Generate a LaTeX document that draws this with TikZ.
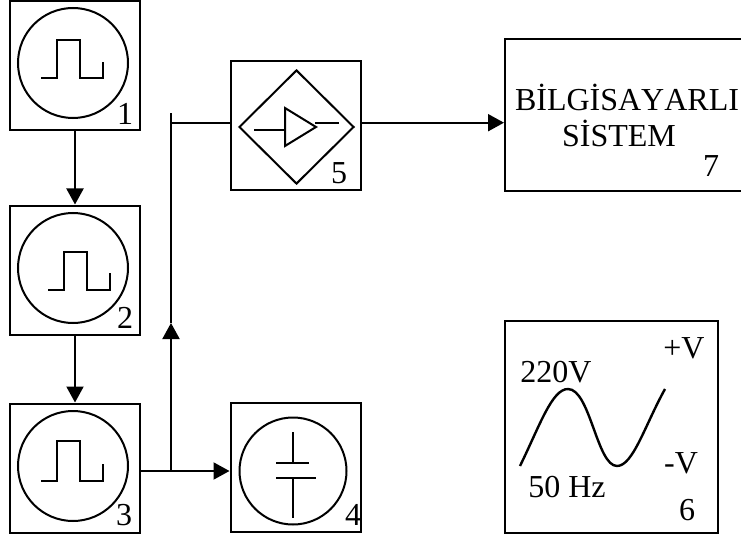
\documentclass[tikz,border=0pt]{standalone}
\usepackage{fontspec}
\setmainfont{Liberation Serif}
\usetikzlibrary{arrows.meta,shapes.geometric}
\begin{document}
\begin{tikzpicture}[x=1pt,y=-1pt,line width=2pt,
  unit/.style={rectangle,draw,inner sep=0pt,minimum width=130pt,minimum height=129pt},
  disc/.style={circle,draw,inner sep=0pt,minimum size=#1},
  lab/.style={inner sep=0pt,font=\fontsize{32}{34}\selectfont},
  flow/.style={-{Triangle[length=16pt,width=17pt]}}]
\useasboundingbox (0,0) rectangle (741,540);
% left column
\node[unit] (box1) at (75,66) {};
\node[unit] (box2) at (75,270) {};
\node[unit] (box3) at (75,468) {};
\node[disc=110pt] (disc1) at (73,63) {};
\node[disc=110pt] (disc2) at (73,268) {};
\node[disc=110pt] (disc3) at (73,466) {};
\draw (41,78) -- ++(16,0) -- ++(0,-38) -- ++(23,0) -- ++(0,38) -- ++(23,0) -- ++(0,-16);
\draw (48,290) -- ++(16,0) -- ++(0,-38) -- ++(23,0) -- ++(0,38) -- ++(23,0) -- ++(0,-17);
\draw (41,481) -- ++(16,0) -- ++(0,-40) -- ++(23,0) -- ++(0,40) -- ++(23,0) -- ++(0,-17);
\node[lab] (num1) at (125,114) {1};
\node[lab] (num2) at (125,318) {2};
\node[lab] (num3) at (124,515) {3};
% capacitor
\node[unit] (box4) at (295.5,467) {};
\node[disc=107pt] (disc4) at (293,471) {};
\draw (293,432) -- (293,463);
\draw (276,463) -- (309,463);
\draw (276,478) -- (316,478);
\draw (293,478) -- (293,518);
\node[lab] (num4) at (353,515) {4};
% amplifier
\node[unit] (box5) at (295.5,126) {};
\node[diamond,draw,inner sep=0pt,minimum width=115pt,minimum height=114pt] (dia5) at (296.5,127) {};
\draw (285,108) -- (285,146) -- (316,127) -- cycle;
\draw (254,130.5) -- (285,130.5);
\draw (315,122.7) -- (339,122.7);
\node[lab] (num5) at (339,173) {5};
% computer
\node[rectangle,draw,inner sep=0pt,minimum width=238pt,minimum height=152pt] (box7) at (624,115) {};
\node[lab] (txt7a) at (627,97) {\addfontfeature{Kerning=Off}BİLGİSAYARLI};
\node[lab] (txt7b) at (619,133) {SİSTEM};
\node[lab] (num7) at (711,166) {7};
% supply
\node[rectangle,draw,inner sep=0pt,minimum width=213pt,minimum height=212pt] (box6) at (611.5,427) {};
\draw[line width=2.4pt] (520,466) .. controls (540,425) and (552,389) .. (568,389)
  .. controls (590,389) and (597,466) .. (617,466)
  .. controls (633,466) and (645,425) .. (665,389);
\node[lab] (txt220) at (556,372) {220V};
\node[lab] (txtplus) at (684,348) {+V};
\node[lab] (txtminus) at (681,463) {-V};
\node[lab] (txthz) at (567,487) {50 Hz};
\node[lab] (num6) at (687,510) {6};
% connections
\coordinate (jct) at (171,471);
\coordinate (tip) at (171,323);
\coordinate (tap) at (171,122.7);
\coordinate (top) at (171,113);
\draw[flow] (box1) -- (box2);
\draw[flow] (box2) -- (box3);
\draw[flow] (box3.east |- jct) -- (box4.west |- jct);
\draw[flow] (jct) -- (tip);
\draw (tip) -- (top);
\draw (tap) -- (box5.west |- tap);
\draw[flow] (box5.east |- tap) -- (box7.west |- tap);
\end{tikzpicture}
\end{document}
